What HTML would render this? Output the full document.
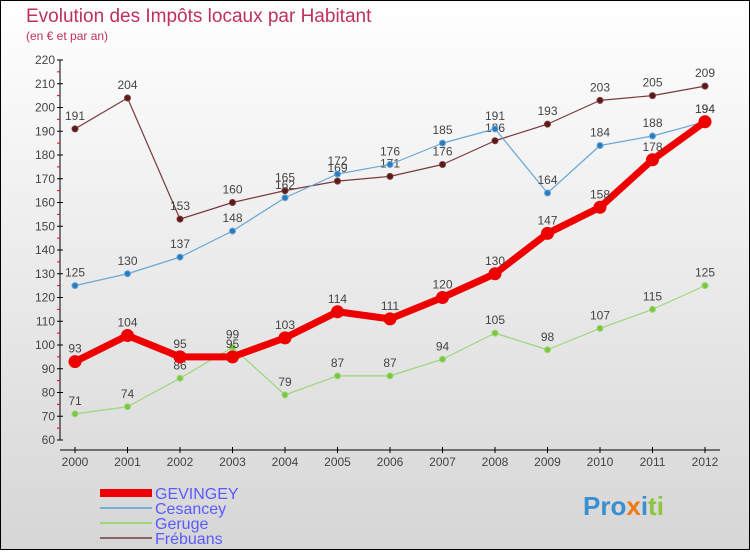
<!DOCTYPE html>
<html><head><meta charset="utf-8"><style>
body{margin:0}
#c{width:750px;height:550px;position:relative;font-family:"Liberation Sans",sans-serif}
</style></head><body>
<div id="c">
<svg id="s" width="750" height="550" xmlns="http://www.w3.org/2000/svg" font-family="Liberation Sans, sans-serif">
<defs><linearGradient id="bg" x1="0" y1="0" x2="0" y2="1"><stop offset="0" stop-color="#ffffff"/><stop offset="1" stop-color="#d6d6d6"/></linearGradient></defs>
<rect x="0.5" y="0.5" width="749" height="549" fill="url(#bg)" stroke="#000"/>
<text x="26" y="22" font-size="19" fill="#c0305a">Evolution des Impôts locaux par Habitant</text>
<text x="26" y="40" font-size="12" fill="#c0305a">(en € et par an)</text>
<g id="axes"></g>
<g id="series"></g>
<g>
<rect x="100" y="489" width="52" height="8" fill="#ee0000"/>
<text x="155" y="499" font-size="16" fill="#5a5aff">GEVINGEY</text>
<rect x="100" y="507" width="52" height="2" fill="#7aaed6"/>
<text x="155" y="514" font-size="16" fill="#5a5aff">Cesancey</text>
<rect x="100" y="522" width="52" height="2" fill="#9ed67a"/>
<text x="155" y="529" font-size="16" fill="#5a5aff">Geruge</text>
<rect x="100" y="537" width="52" height="2" fill="#8a6464"/>
<text x="155" y="544" font-size="16" fill="#5a5aff">Frébuans</text>
</g>
<text x="583" y="515" font-size="26" font-weight="bold"><tspan fill="#3a8fd0">Pro</tspan><tspan fill="#f07a10">x</tspan><tspan fill="#3a8fd0">i</tspan><tspan fill="#8cc63e">ti</tspan></text>
</svg>
</div>
<script>
const years=[2000,2001,2002,2003,2004,2005,2006,2007,2008,2009,2010,2011,2012];
const yTicks=[60,70,80,90,100,110,120,130,140,150,160,170,180,190,200,210,220];
const gevingey=[93,104,95,95,103,114,111,120,130,147,158,178,194];
const cesancey=[125,130,137,148,162,172,176,185,191,164,184,188,194];
const geruge=[71,74,86,99,79,87,87,94,105,98,107,115,125];
const frebuans=[191,204,153,160,165,169,171,176,186,193,203,205,209];
const NS="http://www.w3.org/2000/svg";
function xs(i){return 75+i*(630/(years.length-1));}
function ys(v){return 440-(v-60)*380/160;}
function mk(t,a,p){const e=document.createElementNS(NS,t);for(const k in a)e.setAttribute(k,a[k]);p.appendChild(e);return e;}
const ax=document.getElementById('axes');
let l=mk('line',{x1:60,y1:60,x2:60,y2:440,stroke:'#000'},ax);


l=mk('line',{x1:60,y1:450,x2:720,y2:450,stroke:'#000'},ax);


yTicks.forEach((v,i)=>{
 mk('line',{x1:57,y1:ys(v),x2:63,y2:ys(v),stroke:'#000'},ax);
 if(i<yTicks.length-1)mk('line',{x1:57,y1:ys(v+5),x2:60,y2:ys(v+5),stroke:'#e00'},ax);
 const t=mk('text',{x:55,y:ys(v)+4,'font-size':12,fill:'#444','text-anchor':'end'},ax);
 t.textContent=v;
 
 
});
years.forEach((y,i)=>{
 mk('line',{x1:xs(i),y1:447,x2:xs(i),y2:453,stroke:'#000'},ax);
 const t=mk('text',{x:xs(i),y:466,'font-size':12,fill:'#444','text-anchor':'middle'},ax);
 t.textContent=y;
 
 
});
const sg=document.getElementById('series');
function draw(vals,name,color,w,r,dot){
 const g=mk('g',{},sg);
 
 
 const p=mk('polyline',{points:vals.map((v,i)=>xs(i)+','+ys(v)).join(' '),fill:'none',stroke:color,'stroke-width':w,'stroke-linejoin':'round'},g);
 
 
 vals.forEach((v,i)=>{
  const c=mk('circle',{cx:xs(i),cy:ys(v),r:r,fill:dot,stroke:color,'stroke-width':1},g);
  
  
  const t=mk('text',{x:xs(i),y:ys(v)-9,'font-size':12,fill:'#444','text-anchor':'middle'},g);
  t.textContent=v;
  
  
 });
}
draw(frebuans,'frebuans','#7a3a3a',1.2,3,'#5a1a1a');
draw(cesancey,'cesancey','#6aa6d6',1.2,3,'#2a7ac0');
draw(geruge,'geruge','#9ed67a',1.2,3,'#7ac63e');
draw(gevingey,'gevingey','#ee0000',7,6,'#ee0000');
</script>
</body></html>
